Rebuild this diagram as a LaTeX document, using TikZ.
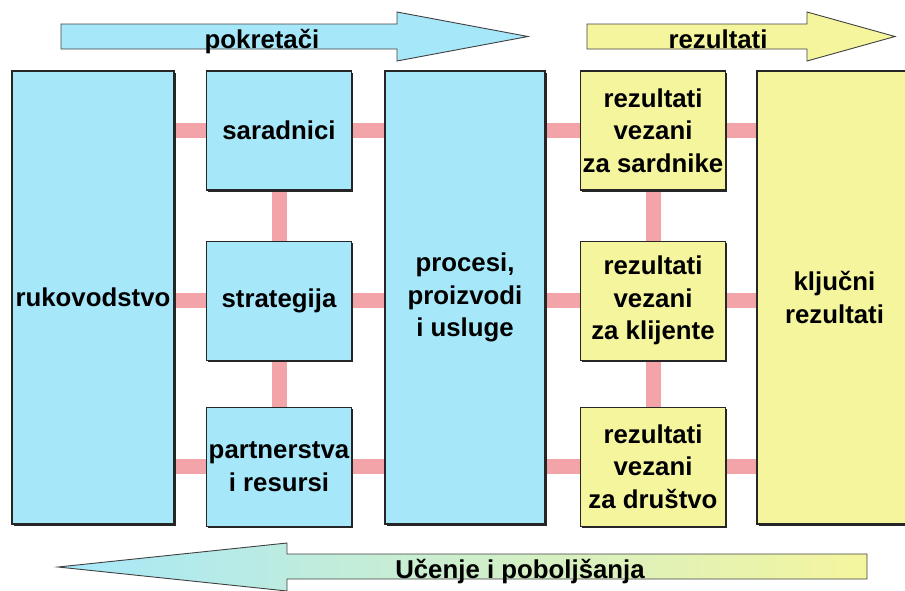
\documentclass[tikz,border=0pt]{standalone}
\usepackage{fontspec}
\setmainfont{Liberation Sans}
\usetikzlibrary{positioning,shadows,backgrounds}
\definecolor{boxblue}{RGB}{166,232,250}
\definecolor{boxyellow}{RGB}{245,245,158}
\definecolor{linkpink}{RGB}{242,164,168}

\begin{document}
\begin{tikzpicture}[x=1pt,y=-1pt,
        font=\fontsize{25.8}{32.5}\selectfont\bfseries,
        every node/.style={align=center,inner sep=0pt}]
    \tikzstyle{box}=[draw=black!85,line width=1.1pt,
        drop shadow={shadow xshift=1.8pt,shadow yshift=-1.8pt,opacity=1,fill=black!85}]
    \tikzstyle{small}=[box,minimum width=145pt,minimum height=119pt]
    \tikzstyle{tall}=[box,minimum height=453pt]
    \tikzstyle{link}=[linkpink,line width=15pt]
    \tikzstyle{arrowbody}=[draw=black!75,line width=0.9pt]

    \useasboundingbox (0,0) rectangle (905,590);

    \node[tall,fill=boxblue,minimum width=162pt] (ruk) at (93,297.5) {rukovodstvo};
    \node[small,fill=boxblue] (sar) at (279,130.5) {saradnici};
    \node[small,fill=boxblue,below=50pt of sar] (str) {strategija};
    \node[small,fill=boxblue,below=46pt of str] (par) {partnerstva\\i resursi};
    \node[tall,fill=boxblue,minimum width=160pt] (pro) at (465,297.5) {procesi,\\proizvodi\\i usluge};

    \node[small,fill=boxyellow] (rza) at (653,130.5) {rezultati\\vezani\\za sardnike};
    \node[small,fill=boxyellow,below=50pt of rza] (rzb) {rezultati\\vezani\\za klijente};
    \node[small,fill=boxyellow,below=46pt of rzb] (rzc) {rezultati\\vezani\\za društvo};
    \node[tall,fill=boxyellow,minimum width=155pt] (klj) at (834.5,297.5) {ključni\\rezultati};

    \begin{scope}[on background layer]
        \foreach \a/\b in {sar/str,str/par,rza/rzb,rzb/rzc}
            \draw[link] (\a.south) -- (\b.north);
        \foreach \lft/\rgt in {sar/rza,str/rzb,par/rzc} {
            \draw[link] (ruk.east |- \lft) -- (\lft.west);
            \draw[link] (\lft.east) -- (pro.west |- \lft);
            \draw[link] (pro.east |- \rgt) -- (\rgt.west);
            \draw[link] (\rgt.east) -- (klj.west |- \rgt);
        }
    \end{scope}

    \draw[arrowbody,fill=boxblue] (61,24) -- (397,24) -- (397,12) -- (528,36.5)
        -- (397,61) -- (397,49) -- (61,49) -- cycle;
    \node[anchor=base] (pok) at (262,48) {pokretači};

    \draw[arrowbody,fill=boxyellow] (587,24) -- (807,24) -- (807,12) -- (895,36.5)
        -- (807,61) -- (807,49) -- (587,49) -- cycle;
    \node[anchor=base] (rez) at (718,48) {rezultati};

    \draw[arrowbody,left color=boxblue,right color=boxyellow] (867,554) -- (287,554)
        -- (287,543) -- (58,567) -- (287,591) -- (287,579) -- (867,579) -- cycle;
    \node[anchor=base] (uce) at (520,578) {Učenje i poboljšanja};
\end{tikzpicture}
\end{document}
